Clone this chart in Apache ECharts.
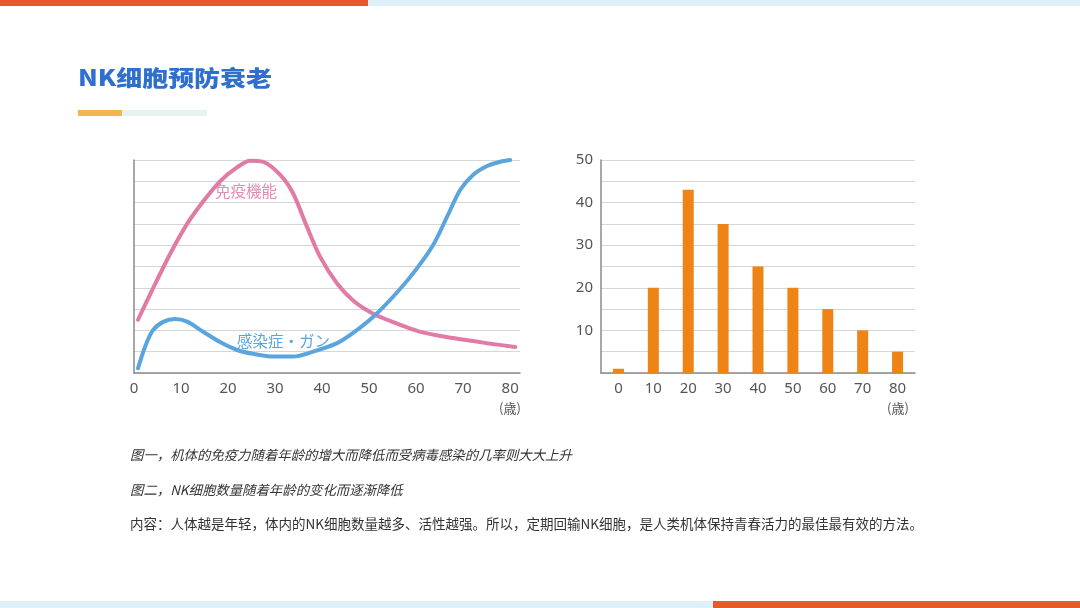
<!DOCTYPE html>
<html>
<head>
<meta charset="utf-8">
<script src="https://cdn.jsdelivr.net/npm/echarts@6/dist/echarts.min.js"></script>
<style>
html,body{margin:0;padding:0;background:#fff;}
#c{width:1080px;height:608px;}
</style>
</head>
<body>
<div id="c"></div>
<script>
// Left chart: smooth curves (age, level)
const immunePts = [[0.85,2.5],[4.0,3.95],[7.7,5.6],[11.3,7.0],[14.7,8.05],[18.3,9.0],[21.9,9.65],[24.7,9.97],[27.4,9.92],[31.1,9.3],[33.8,8.45],[36.8,6.86],[39.6,5.45],[43.2,4.2],[46.6,3.4],[50.2,2.86],[53.8,2.5],[60.9,1.93],[67.9,1.64],[75.1,1.4],[81.1,1.22]];
const infectPts = [[0.85,0.22],[2.3,1.2],[4.0,2.0],[6.2,2.4],[8.7,2.53],[11.3,2.41],[14.7,1.94],[18.3,1.45],[21.9,1.08],[25.3,0.9],[29.6,0.77],[33.8,0.77],[38.1,1.0],[43.2,1.4],[46.6,1.88],[50.9,2.64],[55.1,3.58],[59.4,4.69],[63.6,6.0],[66.6,7.34],[69.4,8.6],[72.1,9.3],[75.1,9.72],[77.9,9.92],[80,10.0]];
// Right chart: NK cell counts
const ageCats = ['0','10','20','30','40','50','60','70','80'];
const nkValues = [1,20,43,35,25,20,15,10,5];

const titleText = 'NK细胞预防衰老';
const immuneLabel = '免疫機能';
const infectLabel = '感染症・ガン';
const unitLabel = '(歳)';
const caption1 = '图一，机体的免疫力随着年龄的增大而降低而受病毒感染的几率则大大上升';
const caption2 = '图二，NK细胞数量随着年龄的变化而逐渐降低';
const caption3 = '内容：人体越是年轻，体内的NK细胞数量越多、活性越强。所以，定期回输NK细胞，是人类机体保持青春活力的最佳最有效的方法。';

const FONT = '"Noto Sans CJK SC","Noto Sans",sans-serif';
const chart = echarts.init(document.getElementById('c'));
chart.setOption({
  backgroundColor:'#ffffff',
  animation:false,
  textStyle:{fontFamily:FONT},
  grid:[
    {left:134, top:160, width:386, height:213},
    {left:601, top:160, width:314, height:213}
  ],
  xAxis:[
    {type:'value', gridIndex:0, min:0, max:82.1, interval:10,
     axisLine:{show:true, lineStyle:{color:'#8a8a8a', width:1.5}},
     axisTick:{show:false}, splitLine:{show:false},
     axisLabel:{color:'#555', fontSize:15, margin:8, fontFamily:'"Noto Sans",sans-serif',
       formatter:v=> v<=80 ? String(v) : ''}},
    {type:'category', gridIndex:1, data:ageCats, boundaryGap:true,
     axisLine:{show:true, lineStyle:{color:'#8a8a8a', width:1.5}},
     axisTick:{show:false},
     axisLabel:{color:'#555', fontSize:15, margin:8, fontFamily:'"Noto Sans",sans-serif'}}
  ],
  yAxis:[
    {type:'value', gridIndex:0, min:0, max:10, interval:1,
     axisLine:{show:true, lineStyle:{color:'#8a8a8a', width:1.5}},
     axisTick:{show:false}, axisLabel:{show:false},
     splitLine:{show:true, lineStyle:{color:'#d6d6d6', width:1}}},
    {type:'value', gridIndex:1, min:0, max:50, interval:5,
     axisLine:{show:true, lineStyle:{color:'#8a8a8a', width:1.5}},
     axisTick:{show:false},
     axisLabel:{color:'#555', fontSize:15, margin:8, fontFamily:'"Noto Sans",sans-serif',
       formatter:v=> (v>0 && v%10===0) ? String(v) : ''},
     splitLine:{show:true, lineStyle:{color:'#d6d6d6', width:1}}}
  ],
  series:[
    {type:'line', xAxisIndex:0, yAxisIndex:0, data:immunePts, smooth:0.3, showSymbol:false,
     lineStyle:{color:'#e27aa6', width:4, cap:'round'}, z:3},
    {type:'line', xAxisIndex:0, yAxisIndex:0, data:infectPts, smooth:0.3, showSymbol:false,
     lineStyle:{color:'#5aa5dd', width:4, cap:'round'}, z:4},
    {type:'bar', xAxisIndex:1, yAxisIndex:1, data:nkValues, barWidth:11,
     itemStyle:{color:'#ee8316'}}
  ],
  graphic:[
    {type:'rect', shape:{x:0,y:0,width:368,height:6}, style:{fill:'#e8592c'}},
    {type:'rect', shape:{x:368,y:0,width:712,height:6}, style:{fill:'#def0f8'}},
    {type:'rect', shape:{x:0,y:601,width:713,height:7}, style:{fill:'#def0f8'}},
    {type:'rect', shape:{x:713,y:601,width:367,height:7}, style:{fill:'#e8592c'}},
    {type:'text', x:78, y:78, scaleX:1.18,
     style:{text:titleText, fill:'#2e6fd0', font:'900 22px "Noto Sans CJK SC",sans-serif', textVerticalAlign:'middle'}},
    {type:'rect', shape:{x:78,y:110,width:44,height:6}, style:{fill:'#f3b552'}},
    {type:'rect', shape:{x:122,y:110,width:85,height:6}, style:{fill:'#e6f3ef'}},
    {type:'text', x:215, y:191, z:10,
     style:{text:immuneLabel, fill:'#e48cb4', font:'15.5px "Noto Sans CJK JP",sans-serif', textVerticalAlign:'middle'}},
    {type:'text', x:237, y:341, z:10,
     style:{text:infectLabel, fill:'#5aa5dd', font:'15.5px "Noto Sans CJK JP",sans-serif', textVerticalAlign:'middle'}},
    {type:'text', x:510, y:408, style:{text:unitLabel, fill:'#555', font:'13px "Noto Sans CJK JP",sans-serif', textAlign:'center', textVerticalAlign:'middle'}},
    {type:'text', x:898, y:408, style:{text:unitLabel, fill:'#555', font:'13px "Noto Sans CJK JP",sans-serif', textAlign:'center', textVerticalAlign:'middle'}},
    {type:'text', x:130, y:455, style:{text:caption1, fill:'#333', font:'italic 13.4px "Noto Sans CJK SC",sans-serif', textVerticalAlign:'middle'}},
    {type:'text', x:130, y:490, style:{text:caption2, fill:'#333', font:'italic 13.4px "Noto Sans CJK SC",sans-serif', textVerticalAlign:'middle'}},
    {type:'text', x:130, y:524, style:{text:caption3, fill:'#333', font:'13.5px "Noto Sans CJK SC",sans-serif', textVerticalAlign:'middle'}}
  ]
});
</script>
</body>
</html>
